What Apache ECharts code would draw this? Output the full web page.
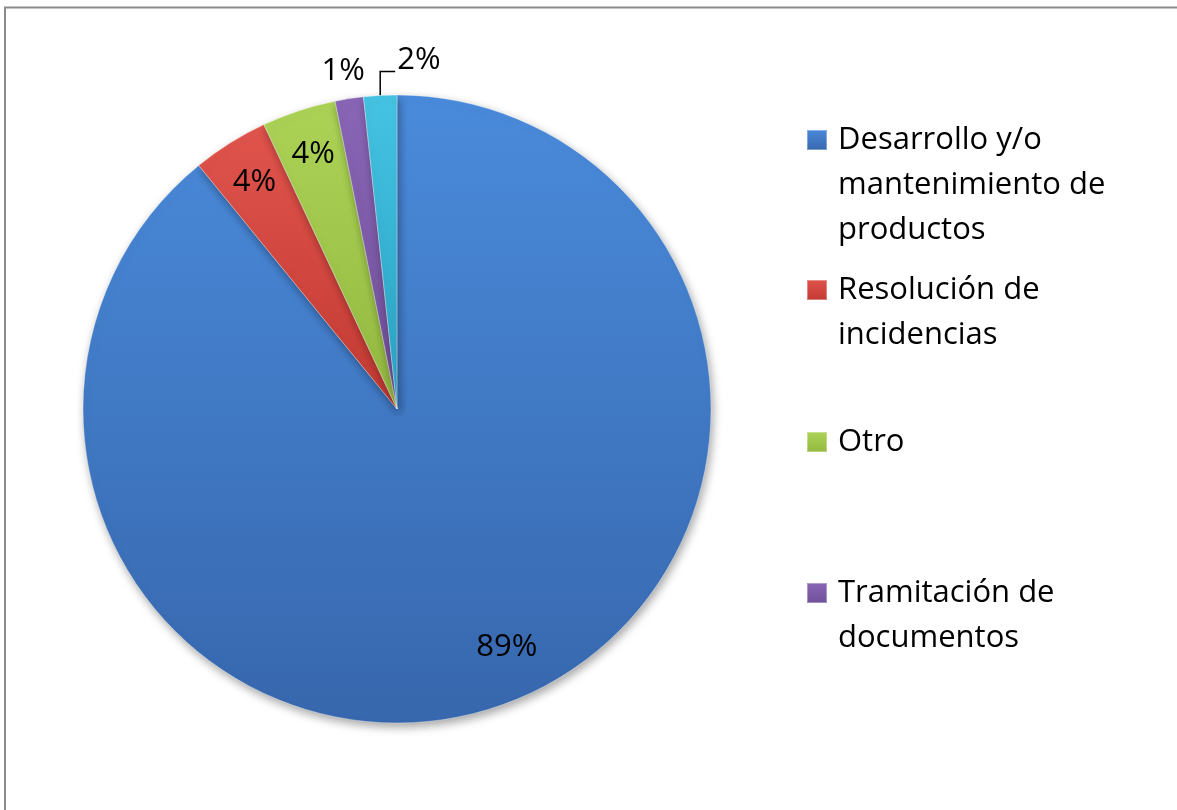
<!DOCTYPE html>
<html>
<head>
<meta charset="utf-8">
<script src="https://cdn.jsdelivr.net/npm/echarts@6/dist/echarts.min.js"></script>
<style>
  html, body { margin: 0; padding: 0; background: #fff; }
  #chart { width: 1177px; height: 810px; }
</style>
</head>
<body>
<div id="chart"></div>
<script>
// ---- data ----
const categories = [
  'Desarrollo y/o mantenimiento de productos',
  'Resolución de incidencias',
  'Otro',
  'Tramitación de documentos',
  'Formación'
];
const values = [88.9, 3.9, 3.8, 1.45, 1.7];
const legendText = [
  ['Desarrollo y/o', 'mantenimiento de', 'productos'],
  ['Resolución de', 'incidencias'],
  ['Otro'],
  ['Tramitación de', 'documentos']
];

// ---- styles ----
const FONT = 'Open Sans';
function grad(c1, c2) {
  return new echarts.graphic.LinearGradient(0, 0, 0, 1, [
    { offset: 0, color: c1 }, { offset: 1, color: c2 }
  ]);
}
const colors = [
  grad('#4a8bdb', '#3767ad'),
  grad('#e0544c', '#c23a33'),
  grad('#acd356', '#93b840'),
  grad('#8a66b6', '#6f4f99'),
  grad('#45c3e2', '#2aa2c3')
];

const chart = echarts.init(document.getElementById('chart'));

const mainData = categories.map((n, i) => ({
  name: n,
  value: values[i],
  itemStyle: { color: colors[i] },
  label: { show: i >= 3 },
  labelLine: { show: i === 4 }
}));
const labelData = categories.map((n, i) => ({
  name: n,
  value: values[i],
  label: { show: i < 3 }
}));

// one legend per entry; blank lines above keep the first text line level with the icon
const legendTops = [22.5, 217.5, 414.5, 520.5];
const legends = legendText.map((lines, i) => {
  const pad = [];
  for (let k = 1; k < lines.length; k++) pad.push(' ');
  const txt = pad.concat(lines).join('\n');
  return {
    data: [categories[i]],
    left: 801,
    top: legendTops[i],
    orient: 'vertical',
    itemWidth: 20,
    itemHeight: 20,
    icon: 'rect',
    selectedMode: false,
    formatter: () => txt,
    textStyle: {
      fontFamily: FONT,
      fontSize: 31,
      color: '#000',
      lineHeight: 45,
      padding: [0, 0, 0, 6]
    }
  };
});

chart.setOption({
  animation: false,
  backgroundColor: '#fff',
  legend: legends,
  graphic: [{
    type: 'rect',
    shape: { x: 5, y: 7.5, width: 1200, height: 900 },
    style: { fill: 'none', stroke: '#8a8a8a', lineWidth: 2 },
    silent: true,
    z: 100
  }],
  series: [
    {
      type: 'pie',
      center: [397, 409],
      radius: [0, 314],
      startAngle: 90,
      clockwise: true,
      avoidLabelOverlap: false,
      itemStyle: {
        borderColor: 'rgba(255,255,255,0.35)',
        borderWidth: 1,
        shadowColor: 'rgba(0,0,0,0.35)',
        shadowBlur: 10,
        shadowOffsetX: 2,
        shadowOffsetY: 4
      },
      label: {
        position: 'outside',
        fontFamily: FONT,
        fontSize: 31,
        color: '#000',
        formatter: p => Math.round(p.value) + '%'
      },
      labelLine: {
        length: 20,
        length2: 10,
        lineStyle: { color: '#000', width: 1.5 }
      },
      labelLayout: function (p) {
        const p0 = p.labelLinePoints ? p.labelLinePoints[0] : null;
        if (!p0) return {};
        if (p.dataIndex === 3) {
          return { x: p0[0] - 6, y: p0[1] - 27, align: 'center', verticalAlign: 'middle' };
        }
        if (p.dataIndex === 4) {
          return {
            x: p0[0] + 17, y: p0[1] - 35, align: 'left', verticalAlign: 'middle',
            labelLinePoints: [[p0[0], p0[1]], [p0[0], p0[1] - 24], [p0[0] + 15, p0[1] - 24]]
          };
        }
        return {};
      },
      emphasis: { disabled: true },
      data: mainData,
      z: 2
    },
    {
      type: 'pie',
      center: [397, 409],
      radius: [216, 314],
      startAngle: 90,
      clockwise: true,
      silent: true,
      avoidLabelOverlap: false,
      itemStyle: { color: 'rgba(0,0,0,0)' },
      label: {
        position: 'inside',
        fontFamily: FONT,
        fontSize: 31,
        color: '#000',
        formatter: p => Math.round(p.value) + '%'
      },
      labelLine: { show: false },
      labelLayout: function (p) {
        if (p.dataIndex === 0) return { dx: 20, dy: -14 };
        return {};
      },
      emphasis: { disabled: true },
      data: labelData,
      z: 3
    }
  ]
});
</script>
</body>
</html>
